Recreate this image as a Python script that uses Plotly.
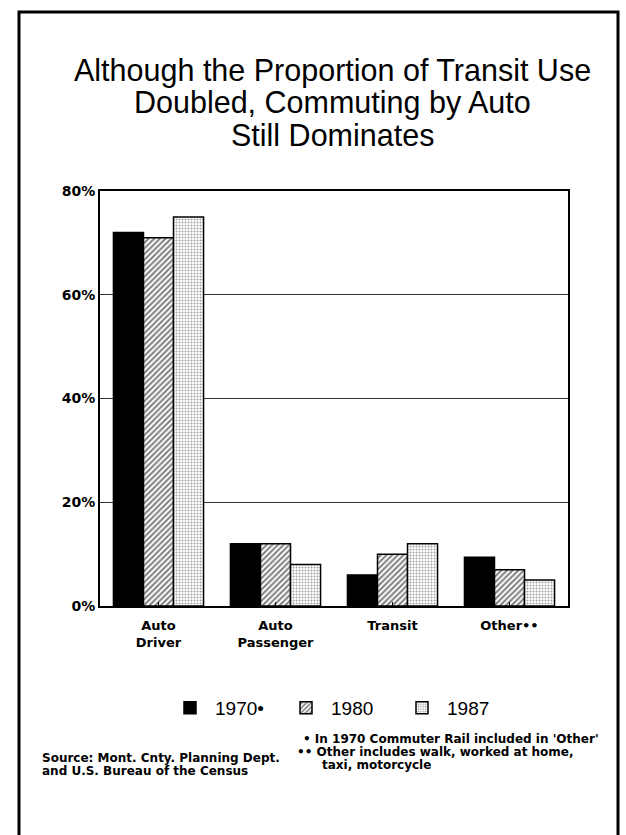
import plotly.graph_objects as go

# Commuting mode share, Montgomery County
categories = ["Auto<br>Driver", "Auto<br>Passenger", "Transit", "Other••"]
years = ["1970•", "1980", "1987"]
share_1970 = [72, 12, 6, 9.4]
share_1980 = [71, 12, 10, 7]
share_1987 = [75, 8, 12, 5]
y_ticks = [0, 20, 40, 60, 80]
y_tick_text = ["0%", "20%", "40%", "60%", "80%"]

title_lines = [
    "Although the Proportion of Transit Use",
    "Doubled, Commuting by Auto",
    "Still Dominates",
]
source_lines = ["Source: Mont. Cnty. Planning Dept.", "and U.S. Bureau of the Census"]
note_lines = [
    "• In 1970 Commuter Rail included in 'Other'",
    "•• Other includes walk, worked at home,",
    "taxi, motorcycle",
]

W, H = 626, 835
L, R, T, B = 100, 568, 191, 606  # plot area in pixels


def px(x):
    return (x - L) / (R - L)


def py(y):
    return (B - y) / (B - T)


patterns = [
    dict(shape=""),
    dict(shape="/", fgcolor="black", bgcolor="white", size=4, solidity=0.5),
    dict(shape=".", fgcolor="#444", bgcolor="white", size=3, solidity=0.35),
]
colors = ["black", "white", "white"]
series = [share_1970, share_1980, share_1987]

fig = go.Figure()
for name, vals, col, pat in zip(years, series, colors, patterns):
    fig.add_trace(go.Bar(
        x=categories, y=vals, name=name,
        marker=dict(color=col, pattern=pat, line=dict(color="black", width=1.5)),
    ))

annotations = []
for text, yc in zip(title_lines, [71, 103, 135]):
    annotations.append(dict(
        text=text, x=px(332), y=py(yc), xref="paper", yref="paper",
        xanchor="center", yanchor="middle", showarrow=False,
        font=dict(family="Liberation Sans", size=30.5, color="black"),
    ))
foot_font = dict(family="DejaVu Sans", size=12, color="black")
for text, yc in zip(source_lines, [758, 771]):
    annotations.append(dict(
        text="<b>" + text + "</b>", x=px(40), y=py(yc), xref="paper", yref="paper",
        xanchor="left", yanchor="middle", showarrow=False, font=foot_font,
    ))
for text, xl, yc in zip(note_lines, [301, 295, 320], [739, 752, 765]):
    annotations.append(dict(
        text="<b>" + text + "</b>", x=px(xl), y=py(yc), xref="paper", yref="paper",
        xanchor="left", yanchor="middle", showarrow=False, font=foot_font,
    ))

# outer frame: left, top and right edges
frame = dict(
    type="path", xref="paper", yref="paper",
    path=f"M {px(19)},{py(850)} L {px(19)},{py(12)} L {px(618)},{py(12)} L {px(618)},{py(850)}",
    line=dict(color="black", width=3),
)

fig.update_layout(
    width=W, height=H,
    margin=dict(l=L, r=W - R, t=T, b=H - B),
    paper_bgcolor="white", plot_bgcolor="white",
    barmode="group", bargap=0.23, bargroupgap=0,
    showlegend=True,
    legend=dict(
        orientation="h", x=px(339), y=py(708), xanchor="center", yanchor="middle",
        font=dict(family="Liberation Sans", size=19, color="black"),
        itemwidth=40, entrywidth=61, entrywidthmode="pixels",
        traceorder="normal", bgcolor="rgba(0,0,0,0)",
    ),
    annotations=annotations,
    shapes=[frame],
    font=dict(family="DejaVu Sans", color="black"),
)
fig.update_yaxes(
    range=[0, 80], tickvals=y_ticks, ticktext=y_tick_text,
    showgrid=True, gridcolor="#333", gridwidth=1,
    showline=True, linecolor="black", linewidth=2, mirror=True,
    ticks="", zeroline=False,
    tickfont=dict(family="DejaVu Sans", size=14, color="black", weight="bold"),
)
fig.update_xaxes(
    showline=True, linecolor="black", linewidth=2, mirror=True,
    ticks="inside", ticklen=4, tickcolor="black", ticklabelstandoff=6,
    tickfont=dict(family="DejaVu Sans", size=13, color="black", weight="bold"),
)

fig.write_html("out.html")
